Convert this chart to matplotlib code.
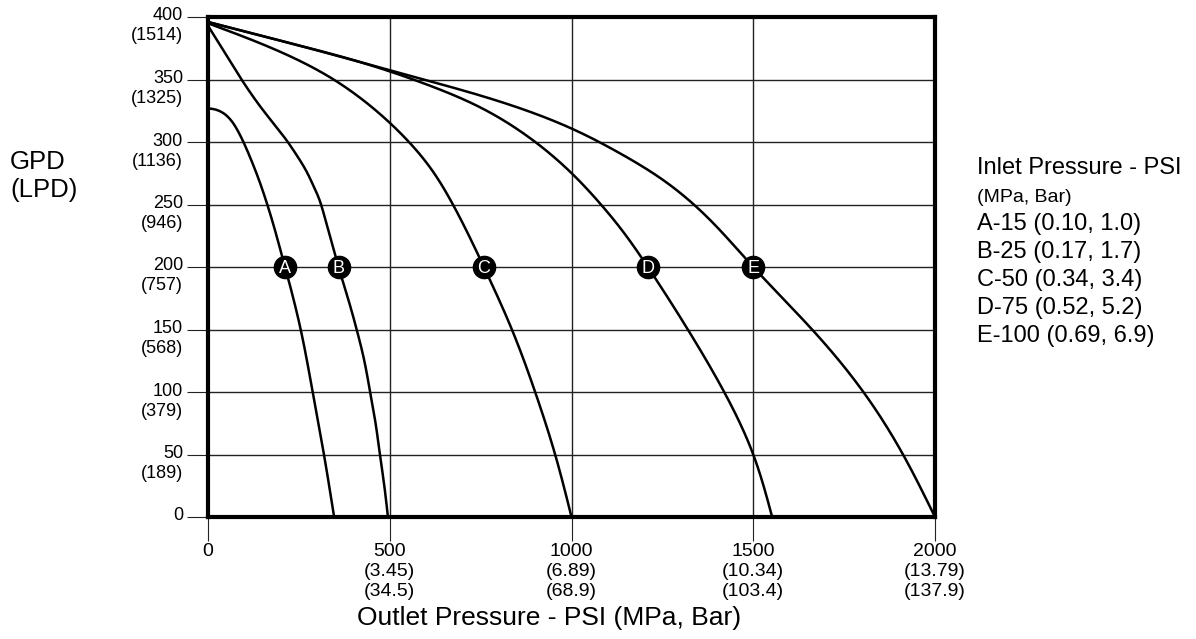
import numpy as np
import matplotlib
matplotlib.use("Agg")
import matplotlib.pyplot as plt
from matplotlib import transforms

# ---------------- data ----------------
x_ticks = [0, 500, 1000, 1500, 2000]
x_tick_psi = ["0", "500", "1000", "1500", "2000"]
x_tick_mpa = ["", "(3.45)", "(6.89)", "(10.34)", "(13.79)"]
x_tick_bar = ["", "(34.5)", "(68.9)", "(103.4)", "(137.9)"]
y_ticks = [0, 50, 100, 150, 200, 250, 300, 350, 400]
y_tick_main = ["0", "50", "100", "150", "200", "250", "300", "350", "400"]
y_tick_sub = ["", "(189)", "(379)", "(568)", "(757)", "(946)", "(1136)", "(1325)", "(1514)"]

curve_names = ["A", "B", "C", "D", "E"]
# outlet pressure (psi) and flow (GPD) for each inlet-pressure curve
A_x = [0, 20, 40, 60, 80, 100, 120, 140, 160, 180, 200, 212, 255, 288, 319, 347]
A_y = [327, 326, 323.5, 318.5, 310, 298.4, 284.8, 269.8, 252.8, 233.8, 212.8, 200, 150, 100, 50, 0]
B_x = [0, 30, 60, 90, 120, 150, 180, 217, 245, 270, 290, 305, 320, 340, 360, 385, 409, 430, 446, 461, 473, 485, 495]
B_y = [393, 379, 365, 351, 338, 326, 315, 301, 289, 277, 265, 255, 241, 220, 199, 175, 150, 125, 100, 75, 50, 25, 0]
C_x = [0, 160, 340, 420, 505, 556, 610, 670, 759, 836, 900, 955, 1000]
C_y = [395, 377, 351, 335, 314, 299, 280, 252, 200, 150, 100, 50, 0]
D_x = [0, 200, 418, 505, 620, 740, 877, 1004, 1078, 1140, 1210, 1320, 1420, 1500, 1552]
D_y = [396, 381, 364, 356, 344, 329, 305, 274, 251, 229, 200, 150, 100, 50, 0]
E_x = [0, 200, 418, 505, 785, 1006, 1133, 1250, 1380, 1500, 1665, 1803, 1912, 2000]
E_y = [396, 381, 364, 357, 334, 310, 291, 270, 238, 200, 149, 100, 50, 0]
curves_x = [A_x, B_x, C_x, D_x, E_x]
curves_y = [A_y, B_y, C_y, D_y, E_y]
marker_level = 200

legend_title = "Inlet Pressure - PSI"
legend_sub = "(MPa, Bar)"
legend_lines = ["A-15 (0.10, 1.0)", "B-25 (0.17, 1.7)", "C-50 (0.34, 3.4)",
                "D-75 (0.52, 5.2)", "E-100 (0.69, 6.9)"]


def natural_spline(t, v, tt):
    n = len(t)
    h = np.diff(t)
    A = np.zeros((n, n))
    r = np.zeros(n)
    A[0, 0] = 1
    A[-1, -1] = 1
    for i in range(1, n - 1):
        A[i, i - 1] = h[i - 1]
        A[i, i] = 2 * (h[i - 1] + h[i])
        A[i, i + 1] = h[i]
        r[i] = 3 * ((v[i + 1] - v[i]) / h[i] - (v[i] - v[i - 1]) / h[i - 1])
    c = np.linalg.solve(A, r)
    b = (v[1:] - v[:-1]) / h - h * (2 * c[:-1] + c[1:]) / 3
    d = (c[1:] - c[:-1]) / (3 * h)
    idx = np.clip(np.searchsorted(t, tt) - 1, 0, n - 2)
    dt = tt - t[idx]
    return v[idx] + b[idx] * dt + c[idx] * dt**2 + d[idx] * dt**3


def smooth(xs, ys, n=600):
    xs = np.asarray(xs, float) / 2000.0
    ys = np.asarray(ys, float) / 400.0
    d = np.sqrt(np.diff(xs)**2 + np.diff(ys)**2)
    t = np.concatenate([[0], np.cumsum(d)])
    tt = np.linspace(0, t[-1], n)
    return natural_spline(t, xs, tt) * 2000.0, natural_spline(t, ys, tt) * 400.0


# ---------------- figure ----------------
plt.rcParams['font.family'] = ['Liberation Sans', 'DejaVu Sans']
fig = plt.figure(figsize=(11.96, 6.39), dpi=100)
ax = fig.add_axes([208/1196, 1 - 517/639, 727/1196, 500/639])
ax.set_xlim(0, 2000)
ax.set_ylim(0, 400)

ax.grid(True, color='#222222', linewidth=1.0)
ax.set_axisbelow(True)
for s in ax.spines.values():
    s.set_linewidth(3.0)
    s.set_color('black')
    s.set_zorder(5)

for name, xs, ys in zip(curve_names, curves_x, curves_y):
    sx, sy = smooth(xs, ys)
    ax.plot(sx, sy, color='black', linewidth=1.8, zorder=3)
    xm = np.interp(marker_level, ys[::-1], xs[::-1])
    ax.plot([xm], [marker_level], 'o', ms=16, color='black', zorder=4)
    ax.text(xm, marker_level - 1, name, color='white', ha='center', va='center',
            fontsize=13, zorder=6)

# ticks
ax.set_xticks(x_ticks)
ax.set_yticks(y_ticks)
ax.tick_params(axis='x', direction='out', length=17, width=0.8, color='#222222')
ax.tick_params(axis='y', direction='out', length=15, width=0.8, color='#222222')
ax.set_xticklabels([])
ax.set_yticklabels([])

# y tick labels (two lines)
ytr = transforms.blended_transform_factory(ax.transAxes, ax.transData)
for v, m, s in zip(y_ticks, y_tick_main, y_tick_sub):
    t1 = transforms.offset_copy(ytr, fig=fig, x=-25, y=1, units='dots')
    ax.text(0, v, m, transform=t1, ha='right', va='center', fontsize=13)
    if s:
        t2 = transforms.offset_copy(ytr, fig=fig, x=-25, y=-19, units='dots')
        ax.text(0, v, s, transform=t2, ha='right', va='center', fontsize=13)

# x tick labels (three lines)
xtr = transforms.blended_transform_factory(ax.transData, ax.transAxes)
for v, a, b, c in zip(x_ticks, x_tick_psi, x_tick_mpa, x_tick_bar):
    for lab, off in ((a, -35), (b, -55), (c, -75)):
        if lab:
            t = transforms.offset_copy(xtr, fig=fig, x=0, y=off, units='dots')
            ax.text(v, 0, lab, transform=t, ha='center', va='center', fontsize=14)

fig.text(549/1196, 1 - 618/639, "Outlet Pressure - PSI (MPa, Bar)", ha='center', va='center',
         fontsize=19)

fig.text(10/1196, 1 - 162/639, "GPD", ha='left', va='center', fontsize=18.5)
fig.text(10/1196, 1 - 190/639, "(LPD)", ha='left', va='center', fontsize=18.5)

# legend text on the right
lx = 977/1196
fig.text(lx, 1 - 168/639, legend_title, ha='left', va='center', fontsize=17)
fig.text(lx, 1 - 197/639, legend_sub, ha='left', va='center', fontsize=14)
for i, line in enumerate(legend_lines):
    fig.text(lx, 1 - (224 + 28*i)/639, line, ha='left', va='center', fontsize=17)

fig.savefig("out.png", dpi=100)
